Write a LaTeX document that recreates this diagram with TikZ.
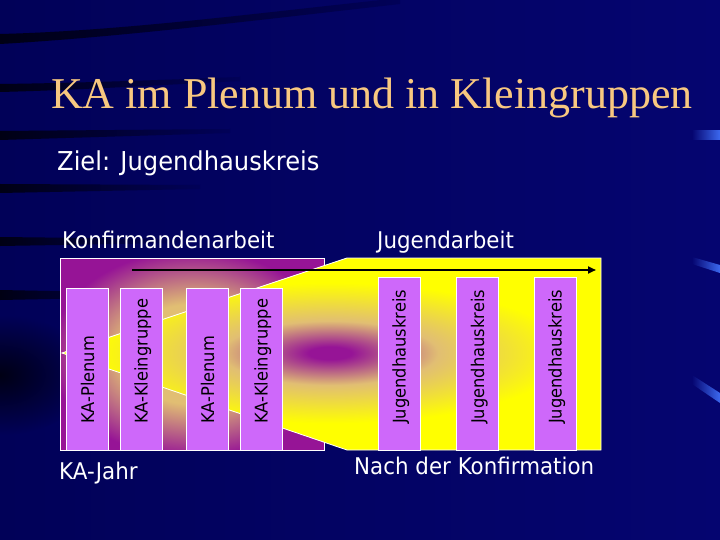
\documentclass[tikz,border=0pt]{standalone}
\usepackage{fontspec}
\setmainfont{Liberation Serif}
\newfontfamily\tah[FakeStretch=0.93]{DejaVu Sans}
\usetikzlibrary{arrows.meta}
\definecolor{bgL}{RGB}{1,1,88}
\definecolor{bgR}{RGB}{5,5,112}
\definecolor{streak}{RGB}{0,0,20}
\definecolor{titlec}{RGB}{248,200,128}
\definecolor{purp}{RGB}{150,20,150}
\definecolor{tanc}{RGB}{225,190,115}
\definecolor{yel}{RGB}{255,255,0}
\definecolor{lav}{RGB}{206,104,250}
\definecolor{markb}{RGB}{60,105,240}
\pgfdeclareradialshading{boxshade}{\pgfpoint{0bp}{0bp}}{color(0bp)=(tanc); color(13bp)=(tanc); color(27bp)=(purp); color(50bp)=(purp)}
\pgfdeclareradialshading{wedgeshade}{\pgfpoint{0bp}{0bp}}{color(0bp)=(purp); color(2bp)=(purp); color(10bp)=(tanc); color(22bp)=(yel); color(50bp)=(yel)}
\tikzset{
  lbl/.style={font=\tah\fontsize{23}{26}\selectfont, text=white, anchor=base west, inner sep=0},
  colbox/.style={fill=lav, draw=white, line width=0.8pt, inner sep=0, minimum width=42pt},
  coltext/.style={font=\tah\fontsize{17.5}{19}\selectfont, text=black, rotate=90, anchor=base west, inner sep=0},
  band/.style={left color=streak, right color=bgL},
  bluemark/.style={left color=bgR, right color=markb}
}
\begin{document}
\begin{tikzpicture}[x=1pt,y=-1pt]
\useasboundingbox (0,0) rectangle (720,540);
% background
\shade[left color=bgL, right color=bgR] (0,0) rectangle (720,540);
% dark streaks
\shade[band] (0,34) .. controls (120,31) and (250,14) .. (400,-2) -- (400,4) .. controls (250,21) and (120,37) .. (0,44) -- cycle;
\shade[band] (0,84) .. controls (80,83) and (160,80) .. (240,77) -- (240,81) .. controls (160,85) and (80,90) .. (0,92) -- cycle;
\shade[band] (0,131) -- (230,129) -- (230,133) -- (0,140) -- cycle;
\shade[band] (0,184) -- (200,185) -- (200,189) -- (0,193) -- cycle;
\shade[band] (0,237) -- (180,239) -- (180,243) -- (0,246) -- cycle;
\shade[band] (0,290) -- (150,293) -- (150,297) -- (0,300) -- cycle;
\shade[inner color=streak, outer color=bgL] (0,375) ellipse [x radius=90, y radius=60];
% light blue marks at right edge
\shade[bluemark] (692,131) rectangle (720,140);
\shade[bluemark] (692,257) -- (720,265) -- (720,273) -- (692,264) -- cycle;
\shade[bluemark] (692,375) -- (720,393) -- (720,403) -- (692,384) -- cycle;
% title
\node[font=\fontsize{44}{48}\selectfont, text=titlec, anchor=base west, inner sep=0] (title) at (51,109) {KA im Plenum und in Kleingruppen};
\node[font=\tah\fontsize{26}{30}\selectfont, text=white, anchor=base west, inner sep=0] (ziel) at (57,171) {Ziel: Jugendhauskreis};
\node[lbl] (konf) at (62,248) {Konfirmandenarbeit};
\node[lbl] (jug) at (377,248) {Jugendarbeit};
\node[lbl] (kajahr) at (59,479) {KA-Jahr};
\node[lbl] (nach) at (354,474) {Nach der Konfirmation};
% left box
\node[shade, shading=boxshade, draw=white, line width=0.8pt, minimum width=264pt, minimum height=192pt, inner sep=0] (kabox) at (192.5,354) {};
% yellow wedge
\fill[yel] (62,353) -- (347,258) -- (601,258) -- (601,450) -- (347,450) -- cycle;
\begin{scope}
  \clip (62,353) -- (347,258) -- (601,258) -- (601,450) -- (347,450) -- cycle;
  \shade[shading=wedgeshade] (330,353) ellipse [x radius=270, y radius=80];
\end{scope}
\draw[white, line width=0.8pt] (62,353) -- (347,258) -- (601,258) -- (601,450) -- (347,450) -- cycle;
% arrow
\coordinate (arrS) at (132,270);
\coordinate (arrE) at (596,270);
\draw[line width=2pt, -{Triangle[length=8pt,width=7pt]}] (arrS) -- (arrE);
% column boxes
\node[colbox, minimum height=162pt] (b1) at (87.5,369) {};
\node[colbox, minimum height=162pt] (b2) at (141,369) {};
\node[colbox, minimum height=162pt] (b3) at (207.5,369) {};
\node[colbox, minimum height=162pt] (b4) at (261,369) {};
\node[colbox, minimum height=173pt] (b5) at (399,363.5) {};
\node[colbox, minimum height=173pt] (b6) at (477.5,363.5) {};
\node[colbox, minimum height=173pt] (b7) at (555,363.5) {};
\node[coltext] (t1) at (94,424) {KA-Plenum};
\node[coltext] (t2) at (147.5,424) {KA-Kleingruppe};
\node[coltext] (t3) at (214,424) {KA-Plenum};
\node[coltext] (t4) at (267.5,424) {KA-Kleingruppe};
\node[coltext] (t5) at (405.5,424) {Jugendhauskreis};
\node[coltext] (t6) at (484,424) {Jugendhauskreis};
\node[coltext] (t7) at (561.5,424) {Jugendhauskreis};
\end{tikzpicture}
\end{document}
